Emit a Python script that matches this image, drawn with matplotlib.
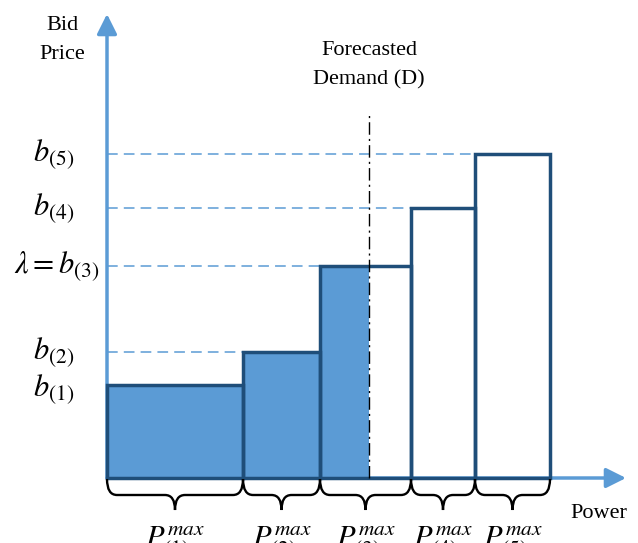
import matplotlib
matplotlib.use("Agg")
import numpy as np
import matplotlib.pyplot as plt
from matplotlib.path import Path
from matplotlib.patches import PathPatch

# Bid blocks (widths in power units, bid prices)
widths = [13.6, 7.7, 9.1, 6.4, 7.5]
bids = [9.3, 12.6, 21.2, 27.0, 32.4]
demand = 26.2
bid_labels = [r"$b_{(1)}$", r"$b_{(2)}$", r"$\lambda = b_{(3)}$", r"$b_{(4)}$", r"$b_{(5)}$"]
p_labels = [r"$P_{(%d)}^{max}$" % (i + 1) for i in range(5)]

fill_c = "#5B9BD5"
edge_c = "#1F4E79"
axis_c = "#5B9BD5"

plt.rcParams["font.family"] = ["Liberation Serif", "DejaVu Serif"]
plt.rcParams["mathtext.fontset"] = "stix"

fig = plt.figure(figsize=(6.38, 5.43), dpi=100)
ax = fig.add_axes([0, 0, 1, 1])
ax.set_xlim(-10.7, 53.1)
ax.set_ylim(-6.5, 47.8)
ax.axis("off")

lefts = np.concatenate([[0], np.cumsum(widths)[:-1]])
rights = lefts + np.array(widths)

# axes arrows
arrow = dict(arrowstyle="-|>", color=axis_c, lw=2.5, mutation_scale=30, shrinkA=0, shrinkB=0)
ax.annotate("", xy=(0, 46.4), xytext=(0, 0), arrowprops=arrow, zorder=1)
ax.annotate("", xy=(51.9, 0), xytext=(0, 0), arrowprops=arrow, zorder=1)

# dashed guide lines from axis to each bid (b1 is the bar top itself)
for i in range(1, 5):
    ax.plot([0, lefts[i]], [bids[i], bids[i]], ls=(0, (7, 4)), color=axis_c, lw=1.1, zorder=2)

# filled part up to demand
fill_w = np.clip(demand - lefts, 0, widths)
ax.bar(lefts, bids, width=fill_w, align="edge", color=fill_c, edgecolor="none", zorder=3)
# outlines
ax.bar(lefts, bids, width=widths, align="edge", facecolor="none", edgecolor=edge_c,
       lw=2.5, zorder=4)

# demand line
ax.plot([demand, demand], [0, 36.6], color="black", lw=1, ls=(0, (9, 3, 1.5, 3)), zorder=5)
ax.text(demand, 41.3, "Forecasted\nDemand (D)", ha="center", va="center",
        fontsize=16, linespacing=1.75)

# axis titles
ax.text(-4.5, 43.8, "Bid\nPrice", ha="center", va="center", fontsize=16, linespacing=1.75)
ax.text(49.2, -3.5, "Power", ha="center", va="center", fontsize=16)

# bid labels on the left
label_y = [8.9, 12.6, 21.2, 27.0, 32.4]
label_x = [-5.3, -5.3, -0.8, -5.3, -5.3]
for lab, x, y in zip(bid_labels, label_x, label_y):
    ax.text(x, y, lab, ha="right" if "lambda" in lab else "center", va="center", fontsize=22)

# braces under each block
def brace(x0, x1, top=-0.1, mid=-1.7, tip=-3.2, r=1.0):
    xm = (x0 + x1) / 2
    verts = [(x0, top), (x0, mid), (x0 + r, mid),
             (xm - r, mid), (xm, mid), (xm, tip),
             (xm, mid), (xm + r, mid),
             (x1 - r, mid), (x1, mid), (x1, top)]
    codes = [Path.MOVETO, Path.CURVE3, Path.CURVE3,
             Path.LINETO, Path.CURVE3, Path.CURVE3,
             Path.CURVE3, Path.CURVE3,
             Path.LINETO, Path.CURVE3, Path.CURVE3]
    ax.add_patch(PathPatch(Path(verts, codes), fill=False, lw=1.7, color="black", zorder=5))

for l, rr, lab in zip(lefts, rights, p_labels):
    brace(l, rr)
    ax.text((l + rr) / 2, -6.5, lab, ha="center", va="center", fontsize=22)

fig.savefig("out.png", dpi=100)
